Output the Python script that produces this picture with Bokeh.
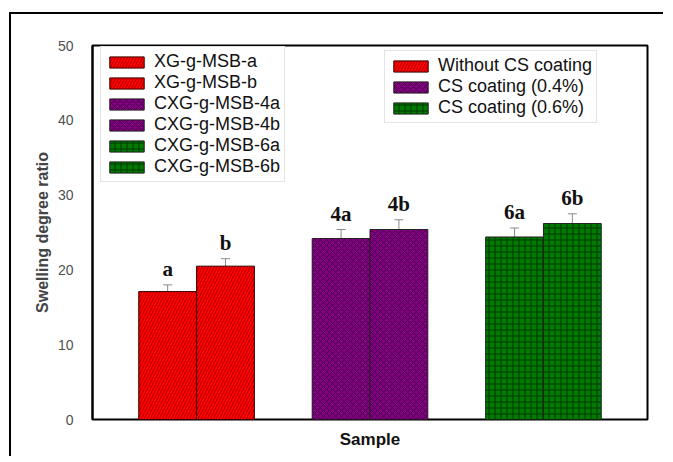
from bokeh.plotting import figure
from bokeh.layouts import column
from bokeh.models import (FactorRange, Range1d, Legend, LegendItem, Whisker,
                          TeeHead, ColumnDataSource, FixedTicker, LabelSet, Title)
from bokeh.embed import file_html
from bokeh.resources import INLINE

# ---- data ----
groups = ["XG-g-MSB", "CXG-g-MSB-4", "CXG-g-MSB-6"]
variants = ["a", "b"]
values = [17.1, 20.5, 24.2, 25.4, 24.4, 26.2]
errors = [0.9, 1.0, 1.2, 1.3, 1.2, 1.3]
bar_labels = ["a", "b", "4a", "4b", "6a", "6b"]
legend1_labels = ["XG-g-MSB-a", "XG-g-MSB-b", "CXG-g-MSB-4a",
                  "CXG-g-MSB-4b", "CXG-g-MSB-6a", "CXG-g-MSB-6b"]
legend2_labels = ["Without CS coating", "CS coating (0.4%)", "CS coating (0.6%)"]
y_ticks = [0, 10, 20, 30, 40, 50]

fill_colors = ["#ff0000", "#800080", "#007a00"]
hatch_colors = ["#b00000", "#4a004a", "#003800"]
hatch_patterns = ["right_diagonal_line", "diagonal_cross", "cross"]

factors = [(g, v) for g in groups for v in variants]

p = figure(x_range=FactorRange(*factors, factor_padding=0.0, group_padding=1.0,
                               range_padding=0.8, range_padding_units="absolute"),
           y_range=Range1d(0, 50),
           frame_width=555, frame_height=374,
           min_border_left=81, min_border_top=31, min_border_right=16,
           min_border_bottom=36,
           output_backend="svg", toolbar_location=None)

p.xgrid.visible = False
p.ygrid.visible = False
p.outline_line_color = "black"
p.outline_line_width = 2

renderers = []
for gi, g in enumerate(groups):
    src = ColumnDataSource(dict(
        x=[(g, v) for v in variants],
        top=values[2 * gi:2 * gi + 2]))
    r = p.vbar(x="x", top="top", width=1.0, source=src,
               fill_color=fill_colors[gi], line_color="#3a0000" if gi == 0 else "#222222",
               line_width=1,
               hatch_pattern=hatch_patterns[gi], hatch_color=hatch_colors[gi],
               hatch_scale=6, hatch_weight=1)
    renderers.append(r)

# error bars
err_src = ColumnDataSource(dict(
    x=factors,
    upper=[v + e for v, e in zip(values, errors)],
    lower=[v - e for v, e in zip(values, errors)],
    lab=bar_labels))
w = Whisker(base="x", upper="upper", lower="lower", source=err_src,
            line_color="#8a8a8a", line_width=1,
            upper_head=TeeHead(size=9, line_color="#8a8a8a", line_width=1),
            lower_head=None)
p.add_layout(w)

labels = LabelSet(x="x", y="upper", text="lab", source=err_src,
                  text_align="center", text_baseline="alphabetic", y_offset=9,
                  text_font="Liberation Serif", text_font_style="bold",
                  text_font_size="21px", text_color="#111111")
p.add_layout(labels)

# axes
p.yaxis.ticker = FixedTicker(ticks=y_ticks)
p.yaxis.axis_label = "Swelling degree ratio"
p.yaxis.axis_label_text_font = "Liberation Sans"
p.yaxis.axis_label_text_font_style = "bold"
p.yaxis.axis_label_text_font_size = "16px"
p.yaxis.axis_label_standoff = 4
p.yaxis.major_label_text_font = "Liberation Sans"
p.yaxis.major_label_text_font_size = "14px"
p.yaxis.major_label_text_color = "#505050"
p.yaxis.major_label_standoff = 13
p.yaxis.major_tick_line_color = None
p.yaxis.minor_tick_line_color = None
p.yaxis.axis_line_color = "black"
p.yaxis.axis_line_width = 2

p.xaxis.visible = False
p.add_layout(Title(text="Sample", align="center", text_font="Liberation Sans",
                   text_font_style="bold", text_font_size="17px",
                   text_color="#111111", standoff=16), "below")

# legends
items1 = [LegendItem(label=legend1_labels[i], renderers=[renderers[i // 2]], index=i % 2)
          for i in range(6)]
items2 = [LegendItem(label=legend2_labels[i], renderers=[renderers[i]], index=0)
          for i in range(3)]

def style_legend(lg):
    lg.label_text_font = "Liberation Sans"
    lg.label_text_font_size = "18px"
    lg.label_text_color = "#111111"
    lg.glyph_width = 43
    lg.glyph_height = 14
    lg.label_height = 20
    lg.label_standoff = 6
    lg.spacing = 0
    lg.padding = 4
    lg.margin = 0
    lg.border_line_color = "#c8c8c8"
    lg.border_line_width = 1
    lg.background_fill_color = "white"
    lg.background_fill_alpha = 1

lg1 = Legend(items=items1, location=(8, 237))
style_legend(lg1)
lg2 = Legend(items=items2, location=(292, 296))
style_legend(lg2)
p.add_layout(lg1, "center")
p.add_layout(lg2, "center")

page = column(p, styles={"border-top": "2px solid black",
                         "border-left": "2px solid black",
                         "margin-left": "9px", "margin-top": "12px"})

open("out.html", "w").write(file_html(page, INLINE))
